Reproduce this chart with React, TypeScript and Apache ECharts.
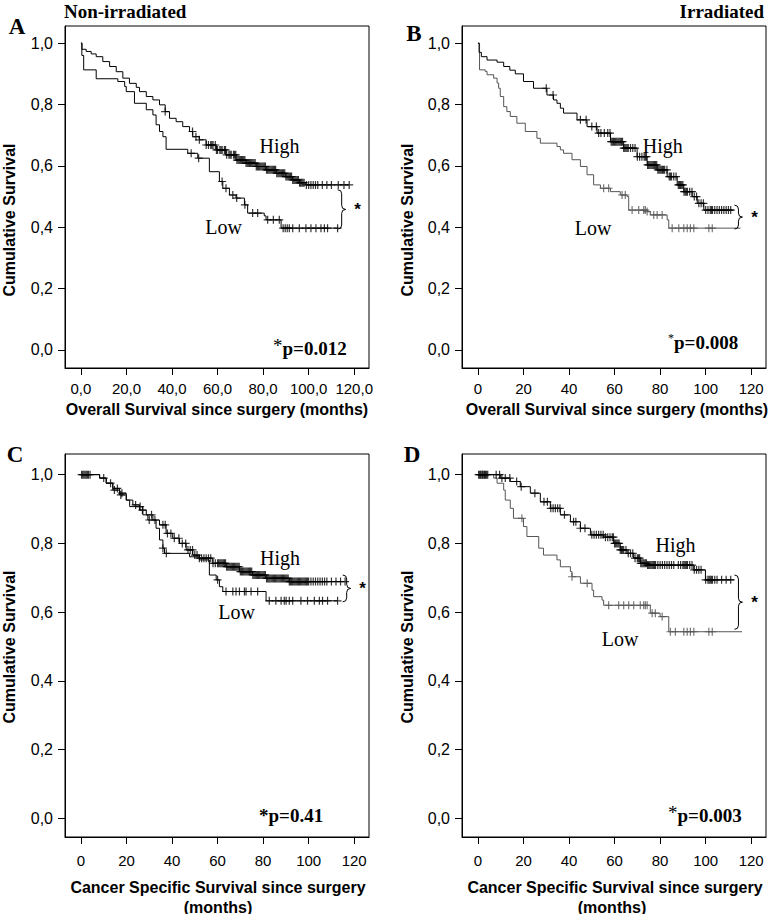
import React, { useEffect, useRef } from "react";
import * as echarts from "echarts";

const SERIF = '"Liberation Serif", "Times New Roman", serif';
const SANS = '"Liberation Sans", Arial, Helvetica, sans-serif';

const xTicks = [0, 20, 40, 60, 80, 100, 120];
const yTicks = [0, 0.2, 0.4, 0.6, 0.8, 1.0];

// Panel A: Non-irradiated, overall survival
const highA = [[0, 1], [0.45, 0.98], [2.3, 0.973], [4.5, 0.965], [6.7, 0.956], [9.6, 0.94], [12.6, 0.924], [15.5, 0.907], [18.4, 0.886], [21.3, 0.869], [24.3, 0.856], [25.7, 0.842], [28.7, 0.826], [31.6, 0.815], [34.5, 0.799], [37, 0.777], [38.9, 0.755], [41.8, 0.744], [44.7, 0.728], [47.7, 0.712], [49.1, 0.695], [52, 0.685], [55, 0.668], [59.4, 0.652], [63.7, 0.636], [68.1, 0.619], [72.5, 0.609], [76.9, 0.598], [81.3, 0.587], [85.7, 0.576], [90, 0.565], [93, 0.554], [95.9, 0.545], [98.8, 0.538], [117.8, 0.538]];
const lowA = [[0, 1], [0.4, 0.96], [1.2, 0.913], [6.7, 0.884], [16.2, 0.875], [19.2, 0.859], [19.9, 0.842], [23.5, 0.804], [28.7, 0.783], [31.6, 0.766], [33, 0.734], [34.5, 0.712], [36, 0.695], [37.4, 0.654], [46.9, 0.641], [51.3, 0.625], [56.4, 0.581], [60.8, 0.549], [62.3, 0.527], [65.2, 0.505], [68.1, 0.495], [71.8, 0.473], [73.2, 0.446], [80.5, 0.437], [81.3, 0.424], [87.9, 0.397], [112.7, 0.397]];
const censorHighA = [37, 49, 50.5, 52, 55, 56, 57, 57.5, 58, 59, 59.5, 60, 61, 61.5, 62, 63, 63.5, 64, 65, 65.5, 66, 67, 67.5, 68, 68.5, 69, 69.5, 70, 70.5, 71, 71.5, 72, 72.5, 73, 73.5, 74, 74.5, 75, 75.5, 76, 76.5, 77, 77.5, 78, 78.5, 79, 79.5, 80, 80.5, 81, 81.5, 82, 82.5, 83, 83.5, 84, 84.5, 85, 85.5, 86, 86.5, 87, 87.5, 88, 88.5, 89, 89.5, 90, 90.5, 91, 91.5, 92, 92.5, 93, 93.5, 94, 94.5, 95, 95.5, 96, 96.5, 97, 97.5, 98, 99, 100, 101, 102, 103, 104, 106, 108, 110, 113, 115.5, 117.8];
const censorLowA = [48.4, 51.7, 62, 63.7, 66.7, 68.4, 72, 75.4, 77.6, 82, 84.5, 87.1, 88.8, 89.7, 90.6, 91.5, 93, 95.9, 98.8, 101, 103.2, 105.4, 106.9, 108.3, 112.7];

// Panel B: Irradiated, overall survival
const highB = [[0, 1], [0.5, 0.97], [1.5, 0.956], [4, 0.945], [8.4, 0.938], [11.3, 0.924], [14, 0.912], [16.4, 0.9], [20, 0.875], [24.4, 0.853], [30.3, 0.831], [33.2, 0.815], [34.7, 0.804], [36.2, 0.788], [37.6, 0.772], [43.5, 0.75], [47.9, 0.728], [52.3, 0.707], [58.2, 0.679], [64, 0.658], [69.9, 0.63], [74.3, 0.603], [78.7, 0.587], [83.1, 0.565], [87.5, 0.538], [90.4, 0.516], [94.1, 0.5], [96.3, 0.478], [99.2, 0.456], [112.4, 0.456]];
const lowB = [[0, 1], [0.7, 0.913], [3.2, 0.908], [4, 0.897], [6.9, 0.886], [8.4, 0.87], [9.1, 0.853], [9.8, 0.826], [11.3, 0.793], [12.7, 0.777], [14.2, 0.761], [17.1, 0.739], [20.8, 0.712], [25.9, 0.69], [27.4, 0.674], [34.7, 0.663], [36.2, 0.652], [37.6, 0.641], [41.3, 0.62], [45, 0.598], [47.9, 0.571], [50.8, 0.538], [53.8, 0.527], [58.2, 0.516], [62.5, 0.505], [65.5, 0.5], [66.2, 0.456], [74.3, 0.451], [75.7, 0.44], [83.1, 0.424], [83.8, 0.397], [115.3, 0.397]];
const censorHighB = [30, 33, 45, 47.5, 50, 52, 53, 54, 55.5, 57, 58, 58.5, 59, 59.5, 60, 60.5, 61, 61.5, 62, 62.5, 63, 63.5, 64, 64.5, 65, 65.5, 66, 67, 68, 69, 70, 71, 72, 73, 73.5, 74, 74.5, 75, 75.5, 76, 76.5, 77, 77.5, 78, 78.5, 79, 79.5, 80, 80.5, 81, 81.5, 82, 83, 84, 84.5, 85, 86, 87, 88, 88.5, 89, 89.5, 90, 90.5, 91, 91.5, 92, 93, 94, 95, 96, 97, 98, 99, 100, 101, 102, 102.5, 103, 104, 105, 106, 107, 108, 109, 110, 111];
const censorLowB = [55.2, 57.4, 63.3, 64.7, 67.7, 70.6, 72.8, 73.5, 74.3, 77.2, 78.7, 80.9, 85.3, 88.2, 90.4, 91.9, 93.3, 94.8, 101.4, 102.9];

// Panel C: Non-irradiated, cancer specific survival
const highC = [[0, 1], [5.3, 1], [8.2, 0.99], [11.1, 0.975], [14, 0.96], [17, 0.946], [19.9, 0.926], [22.8, 0.912], [25.7, 0.897], [28.7, 0.883], [31.6, 0.868], [34.5, 0.854], [37.4, 0.829], [40.3, 0.815], [43.3, 0.8], [46.2, 0.781], [49.1, 0.766], [52, 0.757], [57.9, 0.742], [63.7, 0.732], [69.6, 0.718], [75.4, 0.708], [81.3, 0.698], [91.5, 0.689], [114.9, 0.689]];
const lowC = [[0, 1], [6.2, 1], [8.2, 0.99], [11.1, 0.975], [14, 0.955], [17, 0.941], [19.9, 0.926], [21.4, 0.907], [27.2, 0.883], [29.4, 0.868], [33, 0.844], [34.5, 0.81], [36, 0.786], [36.7, 0.771], [47.7, 0.761], [52, 0.752], [56.4, 0.708], [59.4, 0.694], [60.8, 0.674], [62.3, 0.66], [81.3, 0.633], [112.7, 0.633]];
const censorHighC = [0.3, 0.8, 1.3, 1.8, 2.3, 2.8, 3.3, 4, 10, 13, 16, 18, 24, 27, 31, 32.5, 36, 37, 38, 39.5, 41, 43, 44.5, 46, 47, 48, 49, 50, 51, 52, 53, 54, 55, 56, 57, 58, 59, 60, 60.5, 61, 61.5, 62, 62.5, 63, 63.5, 64, 64.5, 65, 65.5, 66, 66.5, 67, 67.5, 68, 68.5, 69, 69.5, 70, 70.5, 71, 71.5, 72, 72.5, 73, 73.5, 74, 74.5, 75, 75.5, 76, 76.5, 77, 77.5, 78, 78.5, 79, 79.5, 80, 80.5, 81, 81.5, 82, 82.5, 83, 83.5, 84, 84.5, 85, 85.5, 86, 86.5, 87, 87.5, 88, 88.5, 89, 89.5, 90, 90.5, 91, 91.5, 92, 92.5, 93, 93.5, 94, 94.5, 95, 95.5, 96, 96.5, 97, 97.5, 98, 98.5, 99, 99.5, 100, 101, 102, 103, 104, 105, 106, 107, 108, 110, 112, 114, 116];
const censorLowC = [14.7, 17.5, 26, 30, 36, 37.5, 60, 63.7, 66.7, 68.1, 69.6, 71.8, 72.5, 74.7, 77.6, 82.7, 85.6, 87.9, 89.3, 90.1, 91.5, 93, 96.6, 99.5, 102.5, 104.7, 106.1, 108.3, 112.7];

// Panel D: Irradiated, cancer specific survival
const highD = [[0, 1], [5.4, 1], [9.8, 0.99], [14.2, 0.98], [18.6, 0.965], [23, 0.946], [27.4, 0.921], [31.8, 0.902], [36.2, 0.883], [40.6, 0.863], [45, 0.844], [49.4, 0.825], [55.2, 0.818], [59.6, 0.8], [62.5, 0.781], [65.5, 0.771], [68.4, 0.757], [71.3, 0.742], [74.3, 0.737], [94.8, 0.723], [99.9, 0.694], [112.4, 0.694]];
const lowD = [[0, 1], [5.4, 1], [6.9, 0.99], [8.4, 0.975], [11.3, 0.955], [12, 0.926], [14.2, 0.902], [15.6, 0.873], [20, 0.849], [21.5, 0.82], [26.7, 0.786], [28.8, 0.766], [34.7, 0.752], [36.2, 0.732], [40.6, 0.718], [41.3, 0.703], [45, 0.684], [50.1, 0.664], [50.8, 0.645], [54.5, 0.635], [55.2, 0.62], [75.7, 0.597], [80, 0.587], [83.8, 0.543], [116, 0.543]];
const censorHighD = [0.3, 0.8, 1.3, 1.8, 2.3, 2.8, 3.3, 3.8, 4.3, 8, 9.5, 10.5, 12, 14, 17, 19, 25, 29, 30.5, 32, 33, 34, 35, 36, 38, 42, 43, 45, 47, 50, 51, 52, 53, 54, 55, 56, 57, 58, 59, 59.5, 60, 60.5, 61, 61.5, 62, 62.5, 63, 63.5, 64, 65, 66, 67, 68, 69, 70, 70.5, 71, 71.5, 72, 72.5, 73, 73.5, 74, 74.5, 75, 75.5, 76, 76.5, 77, 77.5, 78, 79, 80, 81, 82, 83, 84, 85, 86, 88, 89, 90, 90.5, 91, 91.5, 92, 93, 94, 95, 96, 97, 98, 100, 101, 101.5, 102, 102.5, 103, 104, 105, 107, 109, 111];
const censorLowD = [1, 2, 3, 19.3, 41.3, 48, 57.4, 61.8, 64, 66.2, 68.4, 71.3, 72.8, 73.5, 74.3, 76.5, 77.9, 80.9, 84.5, 86.7, 90.4, 91.9, 93.3, 94.8, 101.4, 102.9];

const groupLabels = ["High", "Low"];
const pValues = ["p=0.012", "p=0.008", "p=0.41", "p=0.003"];
const panelLetters = ["A", "B", "C", "D"];

function survivalAt(curve: number[][], t: number) {
  let v = curve[0][1];
  for (const [x, y] of curve) {
    if (x <= t) v = y;
    else break;
  }
  return v;
}

const PLUS = "path://M-0.15,-1H0.15V-0.15H1V0.15H0.15V1H-0.15V0.15H-1V-0.15H-0.15Z";

const fmtDec = (v: number) => v.toFixed(1).replace(".", ",");
const fmtInt = (v: number) => String(Math.round(v));

const panels = [
  {
    grid: { left: 65, top: 26, width: 304, height: 342 },
    yMin: -0.059, yMax: 1.056,
    high: highA, low: lowA, cHigh: censorHighA, cLow: censorLowA,
    lowColor: "#000", xFmt: fmtDec, xMargin: 13,
    brace: { t: 114.5, top: 0.522, bottom: 0.394 },
    highPos: [279.5, 146], lowPos: [223.5, 227],
    pPos: [273, 348], pStar: { fontSize: 19, fontWeight: "normal", dy: -3 },
  },
  {
    grid: { left: 462, top: 26, width: 304, height: 342 },
    yMin: -0.059, yMax: 1.056,
    high: highB, low: lowB, cHigh: censorHighB, cLow: censorLowB,
    lowColor: "#555", xFmt: fmtInt, xMargin: 13,
    brace: { t: 114.4, top: 0.472, bottom: 0.394 },
    highPos: [662.7, 146], lowPos: [593, 228],
    pPos: [668, 342], pStar: { fontSize: 12, fontWeight: "normal", dy: -4 },
  },
  {
    grid: { left: 65, top: 454, width: 304, height: 383 },
    yMin: -0.054, yMax: 1.06,
    high: highC, low: lowC, cHigh: censorHighC, cLow: censorLowC,
    lowColor: "#000", xFmt: fmtInt, xMargin: 16,
    brace: { t: 116.7, top: 0.708, bottom: 0.63 },
    highPos: [280, 558], lowPos: [236.7, 612],
    pPos: [259, 815], pStar: { fontSize: 19, fontWeight: "bold", dy: 0 },
  },
  {
    grid: { left: 462, top: 454, width: 304, height: 383 },
    yMin: -0.054, yMax: 1.06,
    high: highD, low: lowD, cHigh: censorHighD, cLow: censorLowD,
    lowColor: "#555", xFmt: fmtInt, xMargin: 16,
    brace: { t: 114.4, top: 0.708, bottom: 0.55 },
    highPos: [675.5, 545], lowPos: [620, 639],
    pPos: [668, 815], pStar: { fontSize: 19, fontWeight: "normal", dy: -3 },
  },
];

const letterPos = [[17, 26], [414, 33], [15, 454], [412, 454]];
const yTitlePos = [[9, 220], [407, 220], [9, 647], [407, 647]];

export default function App() {
  const ref = useRef<HTMLDivElement>(null);
  useEffect(() => {
    if (!ref.current) return;
    const chart = echarts.init(ref.current, null, { renderer: "svg" });

    const grids = panels.map((p) => ({
      ...p.grid,
      show: true,
      borderColor: "#000",
      borderWidth: 1,
      backgroundColor: "transparent",
      containLabel: false,
    }));
    const xAxes = panels.map((p, i) => ({
      type: "value",
      gridIndex: i,
      min: -7,
      max: 126.5,
      axisLine: { show: true, onZero: false, lineStyle: { color: "#000", width: 1 } },
      axisTick: { show: true, inside: false, length: 7, customValues: xTicks, lineStyle: { color: "#000" } },
      axisLabel: {
        customValues: xTicks,
        formatter: p.xFmt,
        margin: p.xMargin,
        fontSize: 15,
        color: "#000",
        fontFamily: SANS,
      },
      splitLine: { show: false },
    }));
    const yAxes = panels.map((p, i) => ({
      type: "value",
      gridIndex: i,
      min: p.yMin,
      max: p.yMax,
      axisLine: { show: true, onZero: false, lineStyle: { color: "#000", width: 1 } },
      axisTick: { show: true, inside: false, length: 7, customValues: yTicks, lineStyle: { color: "#000" } },
      axisLabel: {
        customValues: yTicks,
        formatter: fmtDec,
        margin: 12,
        fontSize: 16,
        color: "#000",
        fontFamily: SANS,
      },
      splitLine: { show: false },
    }));

    const series: any[] = [];
    panels.forEach((p, i) => {
      series.push({
        type: "line", xAxisIndex: i, yAxisIndex: i, step: "end", data: p.low,
        symbol: "none", lineStyle: { color: p.lowColor, width: 1 }, z: 2,
      });
      series.push({
        type: "scatter", xAxisIndex: i, yAxisIndex: i,
        data: p.cLow.map((t) => [t, survivalAt(p.low, t)]),
        symbol: PLUS, symbolSize: 8, itemStyle: { color: p.lowColor }, z: 2,
      });
      series.push({
        type: "line", xAxisIndex: i, yAxisIndex: i, step: "end", data: p.high,
        symbol: "none", lineStyle: { color: "#000", width: 1 }, z: 3,
      });
      series.push({
        type: "scatter", xAxisIndex: i, yAxisIndex: i,
        data: p.cHigh.map((t) => [t, survivalAt(p.high, t)]),
        symbol: PLUS, symbolSize: 8, itemStyle: { color: "#000" }, z: 3,
      });
    });

    chart.setOption({
      animation: false,
      backgroundColor: "#fff",
      grid: grids,
      xAxis: xAxes,
      yAxis: yAxes,
      series,
    });

    const g: any[] = [];
    const txt = (x: number, y: number, text: string, style: any, extra: any = {}) =>
      g.push({ type: "text", x, y, style: { text, fill: "#000", ...style }, z: 10, ...extra });

    txt(64, 11, "Non-irradiated", { fontFamily: SERIF, fontWeight: "bold", fontSize: 19, align: "left", verticalAlign: "middle" });
    txt(764, 11, "Irradiated", { fontFamily: SERIF, fontWeight: "bold", fontSize: 19, align: "right", verticalAlign: "middle" });

    panels.forEach((p, i) => {
      txt(letterPos[i][0], letterPos[i][1], panelLetters[i], { fontFamily: SERIF, fontWeight: "bold", fontSize: 23, align: "center", verticalAlign: "middle" });
      txt(p.highPos[0], p.highPos[1], groupLabels[0], { fontFamily: SERIF, fontSize: 20, align: "center", verticalAlign: "middle" });
      txt(p.lowPos[0], p.lowPos[1], groupLabels[1], { fontFamily: SERIF, fontSize: 20, align: "center", verticalAlign: "middle" });
      g.push({
        type: "text", x: p.pPos[0], y: p.pPos[1], z: 10,
        style: {
          text: "{s|*}{p|" + pValues[i] + "}",
          align: "left", verticalAlign: "middle",
          rich: {
            s: { fontFamily: SERIF, fontSize: p.pStar.fontSize, fontWeight: p.pStar.fontWeight, fill: "#000", padding: [0, 0, -p.pStar.dy * 2, 0], verticalAlign: "top" },
            p: { fontFamily: SERIF, fontSize: 19, fontWeight: "bold", fill: "#000" },
          },
        },
      });
      txt(yTitlePos[i][0], yTitlePos[i][1], "Cumulative Survival", { fontFamily: SANS, fontWeight: "bold", fontSize: 16, align: "center", verticalAlign: "middle" }, { rotation: Math.PI / 2 });

      // brace
      const [bx, by1] = chart.convertToPixel({ gridIndex: i }, [p.brace.t, p.brace.top]) as number[];
      const [, by2] = chart.convertToPixel({ gridIndex: i }, [p.brace.t, p.brace.bottom]) as number[];
      const ym = (by1 + by2) / 2;
      const hw = 4;
      const ls = { stroke: "#000", lineWidth: 1, fill: null };
      g.push({ type: "bezierCurve", shape: { x1: bx - hw, y1: by1, x2: bx, y2: by1 + hw, cpx1: bx, cpy1: by1 }, style: ls, z: 10 });
      g.push({ type: "line", shape: { x1: bx, y1: by1 + hw, x2: bx, y2: ym - hw }, style: ls, z: 10 });
      g.push({ type: "bezierCurve", shape: { x1: bx, y1: ym - hw, x2: bx + hw, y2: ym, cpx1: bx, cpy1: ym }, style: ls, z: 10 });
      g.push({ type: "bezierCurve", shape: { x1: bx + hw, y1: ym, x2: bx, y2: ym + hw, cpx1: bx, cpy1: ym }, style: ls, z: 10 });
      g.push({ type: "line", shape: { x1: bx, y1: ym + hw, x2: bx, y2: by2 - hw }, style: ls, z: 10 });
      g.push({ type: "bezierCurve", shape: { x1: bx, y1: by2 - hw, x2: bx - hw, y2: by2, cpx1: bx, cpy1: by2 }, style: ls, z: 10 });
      txt(bx + 16, ym, "*", { fontFamily: SANS, fontWeight: "bold", fontSize: 17, align: "center", verticalAlign: "middle" });
    });

    // x axis titles
    txt(217, 409, "Overall Survival since surgery (months)", { fontFamily: SANS, fontWeight: "bold", fontSize: 16, align: "center", verticalAlign: "middle" });
    txt(617, 409, "Overall Survival since surgery (months)", { fontFamily: SANS, fontWeight: "bold", fontSize: 16, align: "center", verticalAlign: "middle" });
    txt(218, 887, "Cancer Specific Survival since surgery", { fontFamily: SANS, fontWeight: "bold", fontSize: 16, align: "center", verticalAlign: "middle" });
    txt(218, 907, "(months)", { fontFamily: SANS, fontWeight: "bold", fontSize: 16, align: "center", verticalAlign: "middle" });
    txt(615, 887, "Cancer Specific Survival since surgery", { fontFamily: SANS, fontWeight: "bold", fontSize: 16, align: "center", verticalAlign: "middle" });
    txt(612, 907, "(months)", { fontFamily: SANS, fontWeight: "bold", fontSize: 16, align: "center", verticalAlign: "middle" });

    chart.setOption({ graphic: g });

    return () => chart.dispose();
  }, []);

  return <div ref={ref} style={{ position: "fixed", left: 0, top: 0, width: 780, height: 914 }} />;
}
